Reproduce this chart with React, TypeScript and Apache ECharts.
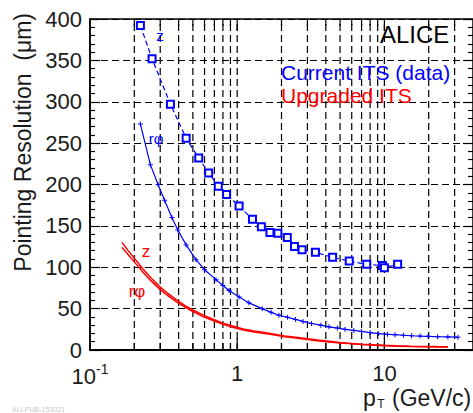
import React, { useEffect, useRef } from "react";
import * as echarts from "echarts";

const FONT = '"Liberation Sans", Arial, Helvetica, sans-serif';

// Current ITS (data), z resolution
const zCurrentPt = [0.22, 0.264, 0.352, 0.45, 0.548, 0.64, 0.744, 0.847, 1.03, 1.27, 1.46, 1.67, 1.89, 2.19, 2.45, 2.76, 3.4, 4.45, 5.77, 7.59, 9.69, 10.0, 12.3];
const zCurrentRes = [392, 352, 297, 256, 232, 214, 198, 188, 174, 158, 149, 142, 141, 136, 125, 121, 118, 112, 107.5, 103.5, 102, 99.5, 103.5];

// Current ITS (data), r-phi resolution
const rphiCurrentPt = [0.22, 0.257, 0.29, 0.321, 0.36, 0.395, 0.45, 0.526, 0.6, 0.718, 0.8, 0.88, 1.03, 1.2, 1.48, 1.7, 1.92, 2.2, 2.49, 2.8, 3.2, 3.7, 4.2, 4.8, 5.4, 6.2, 7.0, 8.0, 9.1, 10.5, 11.8, 13.5, 15.3, 17.5, 19.8, 23, 27, 31.6];
const rphiCurrentRes = [273, 224, 200, 181, 160, 145, 127, 109, 97, 85, 78, 72, 64, 57, 50, 45.5, 42, 39.5, 37, 34.5, 32, 30, 28, 26.5, 25, 23.7, 22.5, 21, 19.8, 19, 18.5, 17.8, 17.2, 16.8, 16.5, 16, 15.8, 15.5];

// Upgraded ITS
const upgradedPt = [0.165, 0.18, 0.2, 0.229, 0.26, 0.3, 0.34, 0.385, 0.44, 0.5, 0.6, 0.7, 0.8, 0.93, 1.1, 1.3, 1.5, 1.8, 2.1, 2.5, 3, 3.5, 4.2, 5, 6, 7, 8.5, 10, 12, 15, 19, 23, 27];
const zUpgradedRes = [130, 121, 111, 98, 87, 76, 68, 61, 54, 48.5, 41.5, 36.5, 32.5, 29, 25.5, 23, 21.5, 19, 17, 15.5, 13.5, 12, 10.5, 9, 8, 7, 6.2, 5.6, 5, 4.6, 4.3, 4.1, 4];
const rphiUpgradedRes = [124, 116, 106.5, 94, 83.5, 73, 65.5, 58.5, 52, 46.5, 39.5, 35, 31, 27.5, 24.2, 21.8, 20.3, 18, 16, 14.6, 12.7, 11.3, 9.8, 8.4, 7.4, 6.5, 5.7, 5.1, 4.5, 4.1, 3.8, 3.6, 3.5];

// axis ticks
const xMajorTicks = [0.1, 1, 10];
const xTickLabels = ["{b|10}{s|-1}", "1", "10"];
const xGridValues = [0.2, 0.3, 0.4, 0.5, 0.6, 0.7, 0.8, 0.9, 1, 2, 3, 4, 5, 6, 7, 8, 9, 10, 20, 30];
const xMin = 0.1;
const xMax = 40;
const yMin = 0;
const yMax = 400;
const yInterval = 50;

const zip = (a: number[], b: number[]) => a.map((v, i) => [v, b[i]]);

const crossSymbol = "path://M4,0H6V4H10V6H6V10H4V6H0V4H4Z";

function txt(x: number, y: number, text: string, fontSize: number, fill: string, align = "left", extra: any = {}) {
  return {
    type: "text",
    x,
    y,
    silent: true,
    z: 100,
    ...extra,
    style: {
      text,
      fontSize,
      fontFamily: FONT,
      fill,
      align,
      textAlign: align,
      verticalAlign: "middle",
      textVerticalAlign: "middle",
    },
  };
}

export default function App() {
  const ref = useRef<HTMLDivElement>(null);
  useEffect(() => {
    if (!ref.current) return;
    const chart = echarts.init(ref.current, null, { renderer: "svg" });
    const option: any = {
      animation: false,
      backgroundColor: "#fff",
      grid: {
        left: 90,
        top: 19,
        right: -2,
        bottom: 63,
        show: true,
        borderColor: "#000",
        borderWidth: 1.5,
        backgroundColor: "transparent",
      },
      xAxis: {
        type: "log",
        logBase: 10,
        min: xMin,
        max: xMax,
        axisLine: { show: true, lineStyle: { color: "#000", width: 2 } },
        axisTick: { show: false },
        splitLine: { show: false },
        minorTick: { show: false },
        axisLabel: {
          showMaxLabel: false,
          margin: 12,
          color: "#1a1a1a",
          fontSize: 22,
          fontFamily: FONT,
          formatter: (v: number) => {
            const e = Math.log10(v);
            const r = Math.round(e);
            if (Math.abs(e - r) > 1e-6) return "";
            const idx = xMajorTicks.findIndex((t) => Math.abs(Math.log10(t) - r) < 1e-6);
            return idx >= 0 ? xTickLabels[idx] : "";
          },
          rich: {
            b: { fontSize: 22, fontFamily: FONT, color: "#1a1a1a", lineHeight: 28 },
            s: { fontSize: 14, fontFamily: FONT, color: "#1a1a1a", verticalAlign: "top", lineHeight: 28 },
          },
        },
      },
      yAxis: [
        {
          type: "value",
          min: yMin,
          max: yMax,
          interval: yInterval,
          axisLine: { show: true, lineStyle: { color: "#000", width: 1.5 } },
          axisTick: { show: true, inside: true, length: 10, lineStyle: { color: "#000", width: 1.2 } },
          minorTick: { show: true, splitNumber: 5, length: 5, lineStyle: { color: "#000", width: 1.2 } },
          splitLine: { show: true, lineStyle: { color: "#000", width: 1.2, type: [7, 4] } },
          axisLabel: { margin: 8, color: "#1a1a1a", fontSize: 22, fontFamily: FONT },
        },
        {
          type: "value",
          position: "right",
          min: yMin,
          max: yMax,
          interval: yInterval,
          axisLine: { show: false },
          axisTick: { show: true, inside: true, length: 10, lineStyle: { color: "#000", width: 1.2 } },
          minorTick: { show: true, splitNumber: 5, length: 5, lineStyle: { color: "#000", width: 1.2 } },
          splitLine: { show: false },
          axisLabel: { show: false },
        },
      ],
      series: [
        {
          type: "custom",
          coordinateSystem: "cartesian2d",
          silent: true,
          z: 1,
          data: xGridValues.map((v) => [v, 0]),
          renderItem: (params: any, api: any) => {
            const v = api.value(0);
            const p0 = api.coord([v, yMin]);
            const p1 = api.coord([v, yMax]);
            const major = xMajorTicks.some((t) => Math.abs(t - v) < 1e-9);
            const tl = major ? 12 : 7;
            return {
              type: "group",
              children: [
                {
                  type: "line",
                  shape: { x1: p0[0], y1: p0[1], x2: p1[0], y2: p1[1] },
                  style: { stroke: "#000", lineWidth: 1.2, lineDash: [7, 4] },
                },
                {
                  type: "line",
                  shape: { x1: p0[0], y1: p0[1], x2: p0[0], y2: p0[1] - tl },
                  style: { stroke: "#000", lineWidth: 1.2 },
                },
                {
                  type: "line",
                  shape: { x1: p1[0], y1: p1[1], x2: p1[0], y2: p1[1] + tl },
                  style: { stroke: "#000", lineWidth: 1.2 },
                },
              ],
            };
          },
        },
        {
          name: "rphi upgraded",
          type: "line",
          z: 3,
          data: zip(upgradedPt, rphiUpgradedRes),
          symbol: "none",
          lineStyle: { color: "#ff0000", width: 1.5 },
        },
        {
          name: "z upgraded",
          type: "line",
          z: 3,
          data: zip(upgradedPt, zUpgradedRes),
          symbol: "none",
          lineStyle: { color: "#ff0000", width: 1.5 },
        },
        {
          name: "rphi current",
          type: "line",
          z: 4,
          data: zip(rphiCurrentPt, rphiCurrentRes),
          symbol: crossSymbol,
          symbolSize: 5,
          itemStyle: { color: "#0000ff" },
          lineStyle: { color: "#0000ff", width: 1.2 },
        },
        {
          name: "z current",
          type: "line",
          z: 5,
          data: zip(zCurrentPt, zCurrentRes),
          symbol: "emptyRect",
          symbolSize: 7,
          itemStyle: { color: "#0000ff", borderColor: "#0000ff", borderWidth: 1.5 },
          lineStyle: { color: "#0000ff", width: 1.2, type: [5, 3] },
        },
      ],
      graphic: [
        txt(23, 13, "Pointing Resolution  (μm)", 23, "#1a1a1a", "right", { rotation: Math.PI / 2 }),
        txt(380, 34, "ALICE", 24, "#000"),
        txt(281, 72, "Current ITS (data)", 21, "#0000ff"),
        txt(281, 95, "Upgraded ITS", 21, "#ff0000"),
        txt(160, 35, "z", 15, "#0000ff", "center"),
        txt(156, 138, "rφ", 15, "#0000ff", "center"),
        txt(146, 251, "z", 17, "#ff0000", "center"),
        txt(137, 291, "rφ", 17, "#ff0000", "center"),
        txt(363, 398, "p", 23, "#1a1a1a"),
        txt(381, 404, "T", 12, "#1a1a1a", "center"),
        txt(392, 398, "(GeV/c)", 23, "#1a1a1a"),
        txt(12, 409, "ALI-PUB-153021", 7, "#c8c8c8"),
      ],
    };
    chart.setOption(option);
    return () => chart.dispose();
  }, []);
  return (
    <div
      ref={ref}
      style={{ position: "fixed", left: 0, top: 0, width: 473, height: 413, background: "#fff" }}
    />
  );
}
